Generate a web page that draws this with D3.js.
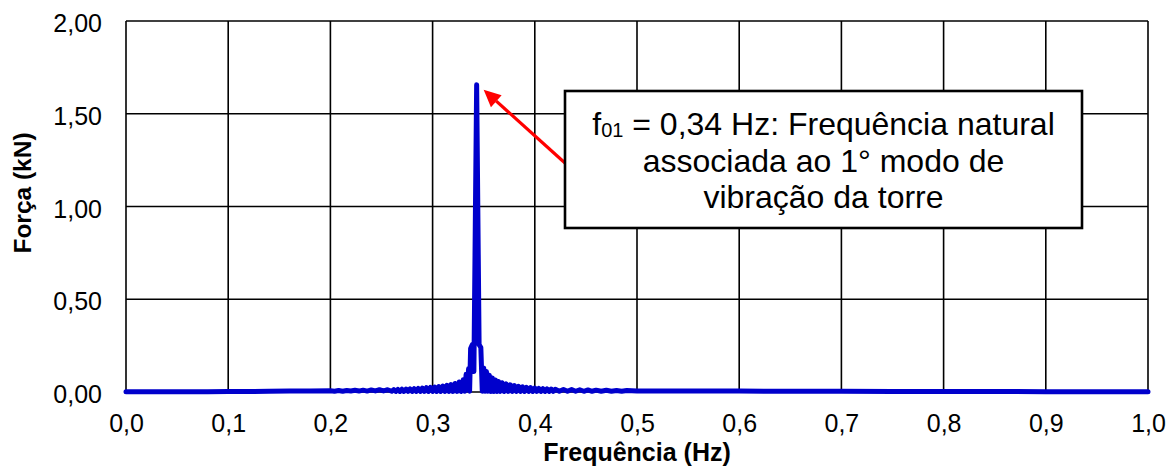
<!DOCTYPE html>
<html>
<head>
<meta charset="utf-8">
<script src="https://cdn.jsdelivr.net/npm/d3@7"></script>
<style>
  body { margin: 0; background: #fff; }
  text { font-family: "Liberation Sans", Arial, sans-serif; fill: #000; }
</style>
</head>
<body>
<svg id="chart" width="1176" height="475"></svg>
<script>
// Frequency spectrum of the tower force signal (Hz, kN)
const freqHz = [
  0.00, 0.02, 0.04, 0.06, 0.08, 0.10, 0.12, 0.14, 0.16, 0.18,
  0.200, 0.204, 0.208, 0.212, 0.216, 0.220, 0.224, 0.228, 0.232, 0.236,
  0.240, 0.244, 0.248, 0.252, 0.256, 0.260, 0.262, 0.264, 0.266, 0.268,
  0.270, 0.272, 0.274, 0.276, 0.278, 0.280, 0.282, 0.284, 0.286, 0.288,
  0.290, 0.292, 0.294, 0.296, 0.298, 0.300, 0.302, 0.304, 0.306, 0.308,
  0.310, 0.312, 0.314, 0.316, 0.318, 0.320, 0.322, 0.324, 0.326, 0.328,
  0.330, 0.3315, 0.3328, 0.3340, 0.3352, 0.3362, 0.3372, 0.3388, 0.3404, 0.3431, 0.3455,
  0.3472, 0.3486, 0.3500, 0.3513, 0.3527, 0.3540, 0.3555, 0.3570, 0.3585, 0.3600,
  0.3615, 0.3630, 0.3645, 0.3660, 0.3680, 0.3700, 0.3720, 0.3740, 0.3760, 0.3780,
  0.3800, 0.3820, 0.3840, 0.3860, 0.3880, 0.3900, 0.3920, 0.3940, 0.3960, 0.3980,
  0.4000, 0.4020, 0.4040, 0.4060, 0.4080, 0.4100, 0.4120, 0.4140, 0.4160, 0.4180,
  0.4200, 0.4240, 0.4280, 0.4320, 0.4360, 0.4400, 0.4440, 0.4480, 0.4520, 0.4560,
  0.4600, 0.4650, 0.4700, 0.4750, 0.4800, 0.4850, 0.4900, 0.5000, 0.52, 0.55,
  0.60, 0.65, 0.70, 0.75, 0.80, 0.85, 0.90, 0.95, 1.00
];
const forceKN = [
  0.001, 0.001, 0.002, 0.002, 0.002, 0.003, 0.003, 0.004, 0.005, 0.006,
  0.007, 0.004, 0.008, 0.004, 0.008, 0.005, 0.009, 0.005, 0.010, 0.005,
  0.011, 0.006, 0.012, 0.006, 0.012, 0.004, 0.013, 0.003, 0.014, 0.003,
  0.015, 0.003, 0.016, 0.003, 0.017, 0.003, 0.018, 0.003, 0.019, 0.003,
  0.021, 0.003, 0.023, 0.003, 0.025, 0.003, 0.027, 0.003, 0.029, 0.003,
  0.032, 0.003, 0.036, 0.003, 0.040, 0.003, 0.046, 0.003, 0.054, 0.003,
  0.066, 0.004, 0.095, 0.030, 0.125, 0.004, 0.235, 0.255, 0.110, 1.656, 0.255,
  0.240, 0.004, 0.130, 0.004, 0.110, 0.004, 0.090, 0.003, 0.075, 0.003,
  0.065, 0.003, 0.057, 0.003, 0.050, 0.003, 0.044, 0.003, 0.039, 0.003,
  0.035, 0.003, 0.031, 0.003, 0.028, 0.003, 0.025, 0.003, 0.023, 0.003,
  0.021, 0.003, 0.019, 0.003, 0.018, 0.003, 0.017, 0.003, 0.016, 0.003,
  0.015, 0.004, 0.014, 0.004, 0.013, 0.004, 0.012, 0.004, 0.011, 0.004,
  0.010, 0.004, 0.009, 0.004, 0.008, 0.004, 0.008, 0.006, 0.006, 0.005,
  0.005, 0.004, 0.004, 0.003, 0.003, 0.003, 0.002, 0.002, 0.002
];

const xTickValues = [0.0, 0.1, 0.2, 0.3, 0.4, 0.5, 0.6, 0.7, 0.8, 0.9, 1.0];
const yTickValues = [0.0, 0.5, 1.0, 1.5, 2.0];

const xTitle = "Frequência (Hz)";
const yTitle = "Força (kN)";
const noteLines = [
  ["f", "01", " = 0,34 Hz: Frequência natural"],
  ["associada ao 1° modo de"],
  ["vibração da torre"]
];

// Layout
const W = 1176, H = 475;
const margin = { left: 126, right: 28, top: 21, bottom: 83 };
const plotW = W - margin.left - margin.right;
const plotH = H - margin.top - margin.bottom;

const pt = d3.formatLocale({ decimal: ",", thousands: ".", grouping: [3], currency: ["", ""] });
const fmtX = pt.format(".1f");
const fmtY = pt.format(".2f");

const svg = d3.select("#chart");
const g = svg.append("g").attr("transform", `translate(${margin.left},${margin.top})`);

const x = d3.scaleLinear().domain([0, 1]).range([0, plotW]);
const y = d3.scaleLinear().domain([0, 2]).range([plotH, 0]);

// Grid (the outer lines double as the plot frame)
g.append("g").selectAll("line").data(xTickValues).join("line")
  .attr("x1", d => x(d)).attr("x2", d => x(d))
  .attr("y1", 0).attr("y2", plotH)
  .attr("stroke", "#000").attr("stroke-width", 1.6);
g.append("g").selectAll("line").data(yTickValues).join("line")
  .attr("x1", 0).attr("x2", plotW)
  .attr("y1", d => y(d)).attr("y2", d => y(d))
  .attr("stroke", "#000").attr("stroke-width", 1.6);

// Axis labels
const xAxis = g.append("g").attr("transform", `translate(0,${plotH})`)
  .call(d3.axisBottom(x).tickValues(xTickValues).tickFormat(fmtX).tickSize(0).tickPadding(22));
const yAxis = g.append("g")
  .call(d3.axisLeft(y).tickValues(yTickValues).tickFormat(fmtY).tickSize(0).tickPadding(24));
[xAxis, yAxis].forEach(a => {
  a.select(".domain").remove();
  a.selectAll("text").attr("font-size", 25)
    .attr("font-family", '"Liberation Sans", Arial, sans-serif').attr("fill", "#000");
});
yAxis.selectAll("text").attr("dy", "0.42em");

// Spectrum line
const line = d3.line().x((d, i) => x(freqHz[i])).y(d => y(d));
g.append("path").datum(forceKN)
  .attr("d", line)
  .attr("fill", "none")
  .attr("stroke", "#0000CC")
  .attr("stroke-width", 5)
  .attr("stroke-linejoin", "round")
  .attr("stroke-linecap", "round");

// Axis titles
svg.append("text")
  .attr("x", margin.left + plotW / 2).attr("y", 461)
  .attr("text-anchor", "middle").attr("font-weight", "bold").attr("font-size", 25)
  .text(xTitle);
svg.append("text")
  .attr("transform", `translate(31,193) rotate(-90)`)
  .attr("text-anchor", "middle").attr("font-weight", "bold").attr("font-size", 24.5)
  .text(yTitle);

// Annotation of the peak
const iPeak = d3.maxIndex(forceKN);
const px = x(freqHz[iPeak]), py = y(forceKN[iPeak]);
const box = { x: 565 - margin.left, y: 91 - margin.top, w: 517, h: 137 };

const tipX = px + 7, tipY = py + 5;
const startX = box.x, startY = box.y + 72;
const ang = Math.atan2(startY - tipY, startX - tipX);
const headLen = 17, headHalf = 8;
const bx = tipX + headLen * Math.cos(ang), by = tipY + headLen * Math.sin(ang);
g.append("line")
  .attr("x1", startX).attr("y1", startY).attr("x2", bx).attr("y2", by)
  .attr("stroke", "#FF0000").attr("stroke-width", 3.2);
g.append("polygon")
  .attr("points", [
    [tipX, tipY],
    [bx - headHalf * Math.sin(ang), by + headHalf * Math.cos(ang)],
    [bx + headHalf * Math.sin(ang), by - headHalf * Math.cos(ang)]
  ].map(p => p.join(",")).join(" "))
  .attr("fill", "#FF0000");

g.append("rect")
  .attr("x", box.x).attr("y", box.y).attr("width", box.w).attr("height", box.h)
  .attr("fill", "#fff").attr("stroke", "#000").attr("stroke-width", 2.6);

const note = g.append("text")
  .attr("text-anchor", "middle").attr("font-size", 32);
noteLines.forEach((parts, i) => {
  const baseY = box.y + 44 + i * 36.7;
  if (parts.length === 3) {
    const t = note.append("tspan").attr("x", box.x + box.w / 2).attr("y", baseY);
    t.append("tspan").text(parts[0]);
    t.append("tspan").attr("font-size", 20).attr("dy", 2).text(parts[1]);
    t.append("tspan").attr("dy", -2).text(parts[2]);
  } else {
    note.append("tspan").attr("x", box.x + box.w / 2).attr("y", baseY).text(parts[0]);
  }
});
</script>
</body>
</html>
